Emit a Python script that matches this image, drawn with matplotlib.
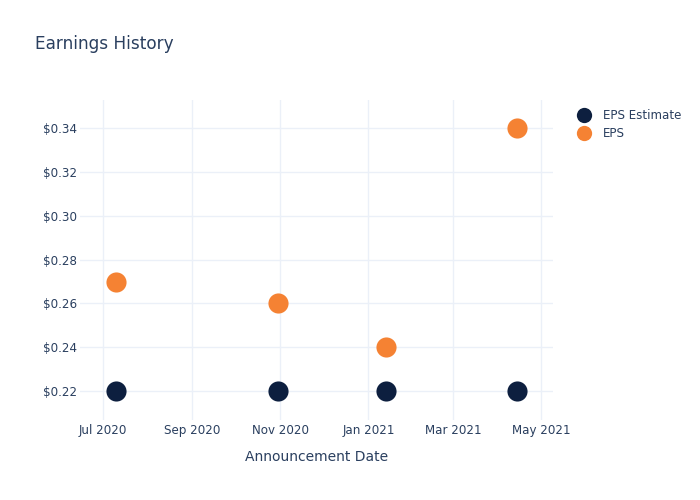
import datetime as dt
import matplotlib
matplotlib.use('Agg')
import matplotlib.pyplot as plt
import matplotlib.dates as mdates
from matplotlib.ticker import FuncFormatter
from matplotlib.lines import Line2D

# announcement dates and values
dates = [dt.date(2020, 7, 10), dt.date(2020, 10, 30),
         dt.date(2021, 1, 13), dt.date(2021, 4, 14)]
eps_estimate = [0.22, 0.22, 0.22, 0.22]
eps_actual = [0.27, 0.26, 0.24, 0.34]
yticks = [0.22, 0.24, 0.26, 0.28, 0.30, 0.32, 0.34]

txt = '#2a3f5f'
grid = '#ebf0f8'
navy = '#0d1f3f'
orange = '#f58233'

plt.rcParams['font.family'] = ['DejaVu Sans']

fig = plt.figure(figsize=(7, 5), dpi=100)
ax = fig.add_axes([80 / 700, 80 / 500, 473 / 700, 320 / 500])

ax.scatter(dates, eps_estimate, s=210, color=navy, zorder=3, linewidths=0)
ax.scatter(dates, eps_actual, s=210, color=orange, zorder=3, linewidths=0)

ax.set_xlim(dt.date(2020, 6, 15), dt.date(2021, 5, 9))
ax.set_ylim(0.20675, 0.35293)
ax.set_yticks(yticks)
ax.yaxis.set_major_formatter(FuncFormatter(lambda v, p: '$%.2f' % v))
ax.xaxis.set_major_locator(mdates.MonthLocator(bymonth=[1, 3, 5, 7, 9, 11]))
ax.xaxis.set_major_formatter(mdates.DateFormatter('%b %Y'))

for s in ax.spines.values():
    s.set_visible(False)
ax.grid(True, color=grid, linewidth=1)
ax.set_axisbelow(True)
ax.tick_params(length=0, labelsize=8.6, colors=txt, pad=3)
ax.tick_params(axis='y', pad=2)

ax.set_xlabel('Announcement Date', fontsize=10, color=txt, labelpad=9)
fig.text(35 / 700, 1 - 44 / 500, 'Earnings History', fontsize=12.2,
         color=txt, va='center', ha='left')

handles = [Line2D([], [], marker='o', linestyle='', markersize=11,
                  color=navy, markeredgewidth=0, label='EPS Estimate'),
           Line2D([], [], marker='o', linestyle='', markersize=11,
                  color=orange, markeredgewidth=0, label='EPS')]
leg = fig.legend(handles=handles, loc='upper left',
                 bbox_to_anchor=(572 / 700, 1 - 104 / 500), frameon=False,
                 fontsize=8.6, labelspacing=0.45, handletextpad=1.0,
                 borderaxespad=0, handlelength=1.2)
for t in leg.get_texts():
    t.set_color(txt)

fig.savefig('out.png', dpi=100)
